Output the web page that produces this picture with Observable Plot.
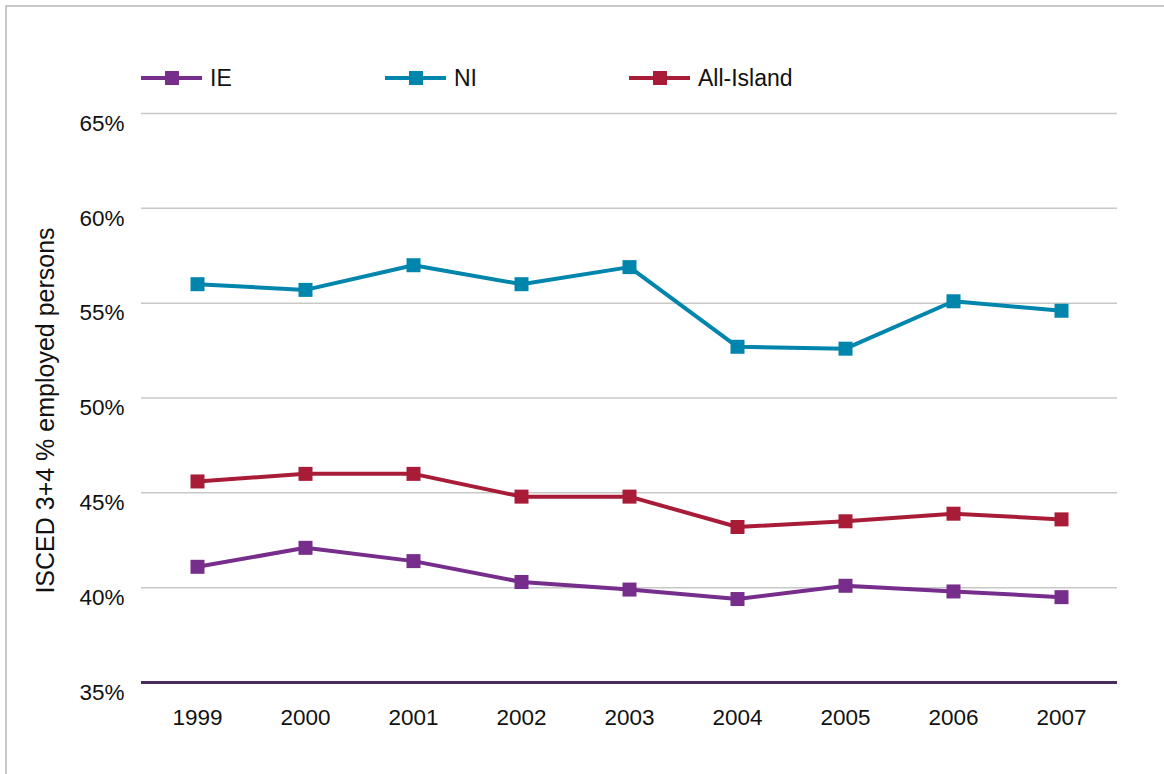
<!DOCTYPE html>
<html>
<head>
<meta charset="utf-8">
<script src="https://cdn.jsdelivr.net/npm/d3@7"></script>
<script src="https://cdn.jsdelivr.net/npm/@observablehq/plot@0.6"></script>
<style>
  html, body { margin: 0; padding: 0; background: #fff; overflow: hidden; }
  #wrap { position: relative; width: 1164px; height: 774px; font-family: "Liberation Sans", Arial, sans-serif; }
  #frame { position: absolute; left: 5px; top: 5px; width: 1200px; height: 900px; border: 2px solid #c8c8c8; pointer-events: none; }
  #legend { position: relative; height: 100px; }
  .item { position: absolute; top: 64px; display: flex; align-items: center; font-size: 23px; color: #111; line-height: 28px; }
  .item svg { margin-right: 8px; }
  #chart { position: relative; }
</style>
</head>
<body>
<div id="wrap">
  <div id="frame"></div>
  <div id="legend"></div>
  <div id="chart"></div>
</div>
<script>
// Share of employed persons with ISCED 3+4 attainment, 1999–2007
const years = ["1999", "2000", "2001", "2002", "2003", "2004", "2005", "2006", "2007"];
const ieValues = [41.1, 42.1, 41.4, 40.3, 39.9, 39.4, 40.1, 39.8, 39.5];
const niValues = [56.0, 55.7, 57.0, 56.0, 56.9, 52.7, 52.6, 55.1, 54.6];
const allIslandValues = [45.6, 46.0, 46.0, 44.8, 44.8, 43.2, 43.5, 43.9, 43.6];

const seriesNames = ["IE", "NI", "All-Island"];
const seriesColors = ["#772d8b", "#0085ad", "#a91c37"];
const yTicks = [35, 40, 45, 50, 55, 60, 65];
const yTitle = "ISCED 3+4 % employed persons";

const seriesValues = [ieValues, niValues, allIslandValues];
const rows = years.flatMap((year, i) =>
  seriesNames.map((series, k) => ({year, series, value: seriesValues[k][i]}))
);

// Legend: line-with-square swatches laid out in a row
const legendLeft = [141, 385, 629];
const legend = document.getElementById("legend");
seriesNames.forEach((name, k) => {
  const item = document.createElement("div");
  item.className = "item";
  item.style.left = legendLeft[k] + "px";
  item.innerHTML =
    `<svg width="61" height="16"><line x1="0" x2="61" y1="8" y2="8" stroke="${seriesColors[k]}" stroke-width="4"/>` +
    `<rect x="24" y="1" width="14" height="14" fill="${seriesColors[k]}"/></svg><span>${name}</span>`;
  legend.appendChild(item);
});

const chart = Plot.plot({
  width: 1164,
  height: 674,
  marginTop: 13,
  marginBottom: 92,
  marginLeft: 141,
  marginRight: 47,
  style: {fontFamily: "Liberation Sans, Arial, sans-serif", color: "#111", background: "transparent", overflow: "visible"},
  x: {type: "point", domain: years, padding: 0.5, label: null},
  y: {domain: [35, 65], label: null},
  color: {domain: seriesNames, range: seriesColors},
  marks: [
    Plot.ruleY(yTicks.filter(t => t > 35), {stroke: "#c8c8c8", strokeWidth: 1.5}),
    Plot.axisY(yTicks, {tickSize: 0, tickPadding: 17, tickFormat: d => d + "%", dy: 10, label: null, fontSize: 22.5}),
    Plot.axisX(years, {tickSize: 0, tickPadding: 27, label: null, fontSize: 22.5}),
    Plot.text([yTitle], {text: d => d, frameAnchor: "left", textAnchor: "middle", rotate: -90, dx: -96, dy: 12.5, fontSize: 25, fill: "#111"}),
    Plot.ruleY([35], {stroke: "#4a2b5e", strokeWidth: 3}),
    Plot.line(rows, {x: "year", y: "value", z: "series", stroke: "series", strokeWidth: 4}),
    Plot.dot(rows, {x: "year", y: "value", fill: "series", symbol: "square", r: 7.9})
  ]
});
document.getElementById("chart").appendChild(chart);
</script>
</body>
</html>
